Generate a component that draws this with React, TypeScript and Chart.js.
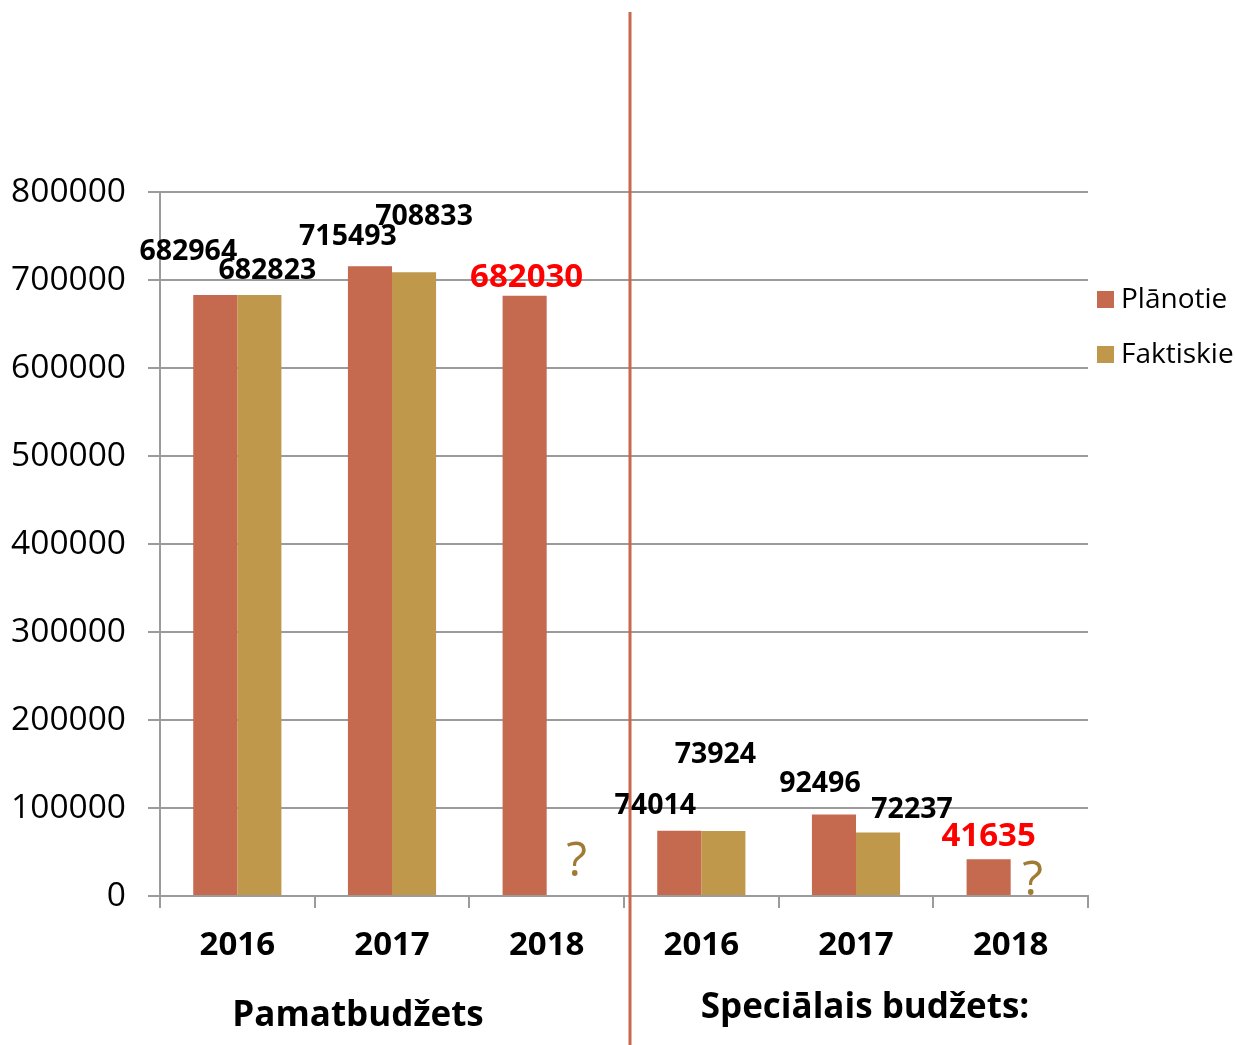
import React, { useEffect, useRef } from "react";
import { Chart, registerables } from "chart.js";

Chart.register(...registerables);

const categories = ["2016", "2017", "2018", "2016", "2017", "2018"];
const groupLabels = ["Pamatbudžets", "Speciālais budžets:"];
const plannedValues = [682964, 715493, 682030, 74014, 92496, 41635];
const actualValues: (number | null)[] = [682823, 708833, null, 73924, 72237, null];
const seriesNames = ["Plānotie", "Faktiskie"];
const highlightedIndexes = [2, 5];
const missingMark = "?";
const yTickValues = [0, 100000, 200000, 300000, 400000, 500000, 600000, 700000, 800000];

const FONT = "'Open Sans', sans-serif";
const PLANNED_COLOR = "#C5694F";
const ACTUAL_COLOR = "#C0984B";
const GRID_COLOR = "#9b9b9b";

// label offsets (text centre relative to bar top-centre)
const plannedOffsets = [[-27, -43], [-22, -29], [2, -18], [-24, -25], [-14, -31], [0, -23]];
const actualOffsets = [[8, -24], [10, -55], [0, 0], [-8, -76], [34, -23], [0, 0]];

const overlayPlugin = {
  id: "overlay",
  afterDraw(chart: any) {
    const ctx = chart.ctx;
    const xs = chart.scales.x;
    const ys = chart.scales.y;
    ctx.save();
    ctx.textAlign = "center";
    ctx.textBaseline = "middle";

    // value labels
    const pm = chart.getDatasetMeta(0);
    const am = chart.getDatasetMeta(1);
    plannedValues.forEach((v, i) => {
      const el = pm.data[i];
      const red = highlightedIndexes.includes(i);
      ctx.font = red ? `bold 33px ${FONT}` : `bold 28.5px ${FONT}`;
      ctx.fillStyle = red ? "#FF0000" : "#000000";
      const [dx, dy] = plannedOffsets[i];
      ctx.fillText(String(v), el.x + dx, el.y + dy);
    });
    actualValues.forEach((v, i) => {
      const el = am.data[i];
      if (v === null) {
        ctx.save();
        ctx.textBaseline = "alphabetic";
        ctx.font = `500 48px ${FONT}`;
        ctx.fillStyle = "#A07B36";
        const cx = xs.getPixelForValue(i) + 22 + (i === 2 ? 8 : 0);
        const cy = ys.getPixelForValue(0) + (i === 2 ? -20 : -1);
        ctx.fillText(missingMark, cx, cy);
        ctx.restore();
        return;
      }
      ctx.font = `bold 28.5px ${FONT}`;
      ctx.fillStyle = "#000000";
      const [dx, dy] = actualOffsets[i];
      ctx.fillText(String(v), el.x + dx, el.y + dy);
    });

    // separator line
    const sepX = (xs.getPixelForValue(2) + xs.getPixelForValue(3)) / 2 + 6;
    ctx.strokeStyle = "#C5694F";
    ctx.lineWidth = 3;
    ctx.beginPath();
    ctx.moveTo(sepX, 12);
    ctx.lineTo(sepX, chart.height);
    ctx.stroke();

    // group labels
    ctx.fillStyle = "#000000";
    ctx.font = `bold 35px ${FONT}`;
    const g1 = (xs.getPixelForValue(0) + xs.getPixelForValue(2)) / 2;
    const g2 = (xs.getPixelForValue(3) + xs.getPixelForValue(5)) / 2;
    ctx.fillText(groupLabels[0], g1 - 34, 1016);
    ctx.fillText(groupLabels[1], g2 + 9, 1008);

    // legend
    ctx.textAlign = "left";
    ctx.font = `28px ${FONT}`;
    const lx = chart.chartArea.right + 9;
    [PLANNED_COLOR, ACTUAL_COLOR].forEach((c, k) => {
      const cy = 299 + k * 55;
      ctx.fillStyle = c;
      ctx.fillRect(lx, cy - 8, 17, 17);
      ctx.fillStyle = "#000000";
      ctx.fillText(seriesNames[k], lx + 24, cy + 1);
    });
    ctx.restore();
  },
};

export default function App() {
  const ref = useRef<HTMLCanvasElement>(null);
  useEffect(() => {
    if (!ref.current) return;
    const chart = new Chart(ref.current, {
      type: "bar",
      data: {
        labels: categories,
        datasets: [
          { label: seriesNames[0], data: plannedValues, backgroundColor: PLANNED_COLOR, categoryPercentage: 0.57, barPercentage: 1 },
          { label: seriesNames[1], data: actualValues, backgroundColor: ACTUAL_COLOR, categoryPercentage: 0.57, barPercentage: 1 },
        ],
      },
      options: {
        responsive: false,
        animation: false,
        layout: { padding: { top: 192, right: 147, left: 0, bottom: 0 } },
        plugins: { legend: { display: false }, tooltip: { enabled: false } },
        scales: {
          x: {
            afterFit(s: any) { s.height = 149; },
            grid: { offset: true, drawOnChartArea: false, drawTicks: true, tickLength: 12, color: GRID_COLOR, lineWidth: 2 },
            border: { display: true, color: GRID_COLOR, width: 2 },
            ticks: { color: "#000", font: { family: FONT, size: 33, weight: "bold" }, padding: 18, maxRotation: 0 },
          },
          y: {
            min: 0,
            max: 800000,
            afterFit(s: any) { s.width = 160; },
            afterBuildTicks(s: any) { s.ticks = yTickValues.map((v) => ({ value: v })); },
            grid: { color: GRID_COLOR, lineWidth: 2, tickLength: 12, drawTicks: true },
            border: { display: true, color: GRID_COLOR, width: 2 },
            ticks: { color: "#000", font: { family: FONT, size: 33.5 }, padding: 22, callback: (v: any) => String(v) },
          },
        },
      },
      plugins: [overlayPlugin],
    });
    return () => chart.destroy();
  }, []);
  return (
    <div style={{ position: "fixed", left: 0, top: 0, width: 1235, height: 1045, background: "#fff" }}>
      <canvas ref={ref} width={1235} height={1045} style={{ width: 1235, height: 1045 }} />
    </div>
  );
}
